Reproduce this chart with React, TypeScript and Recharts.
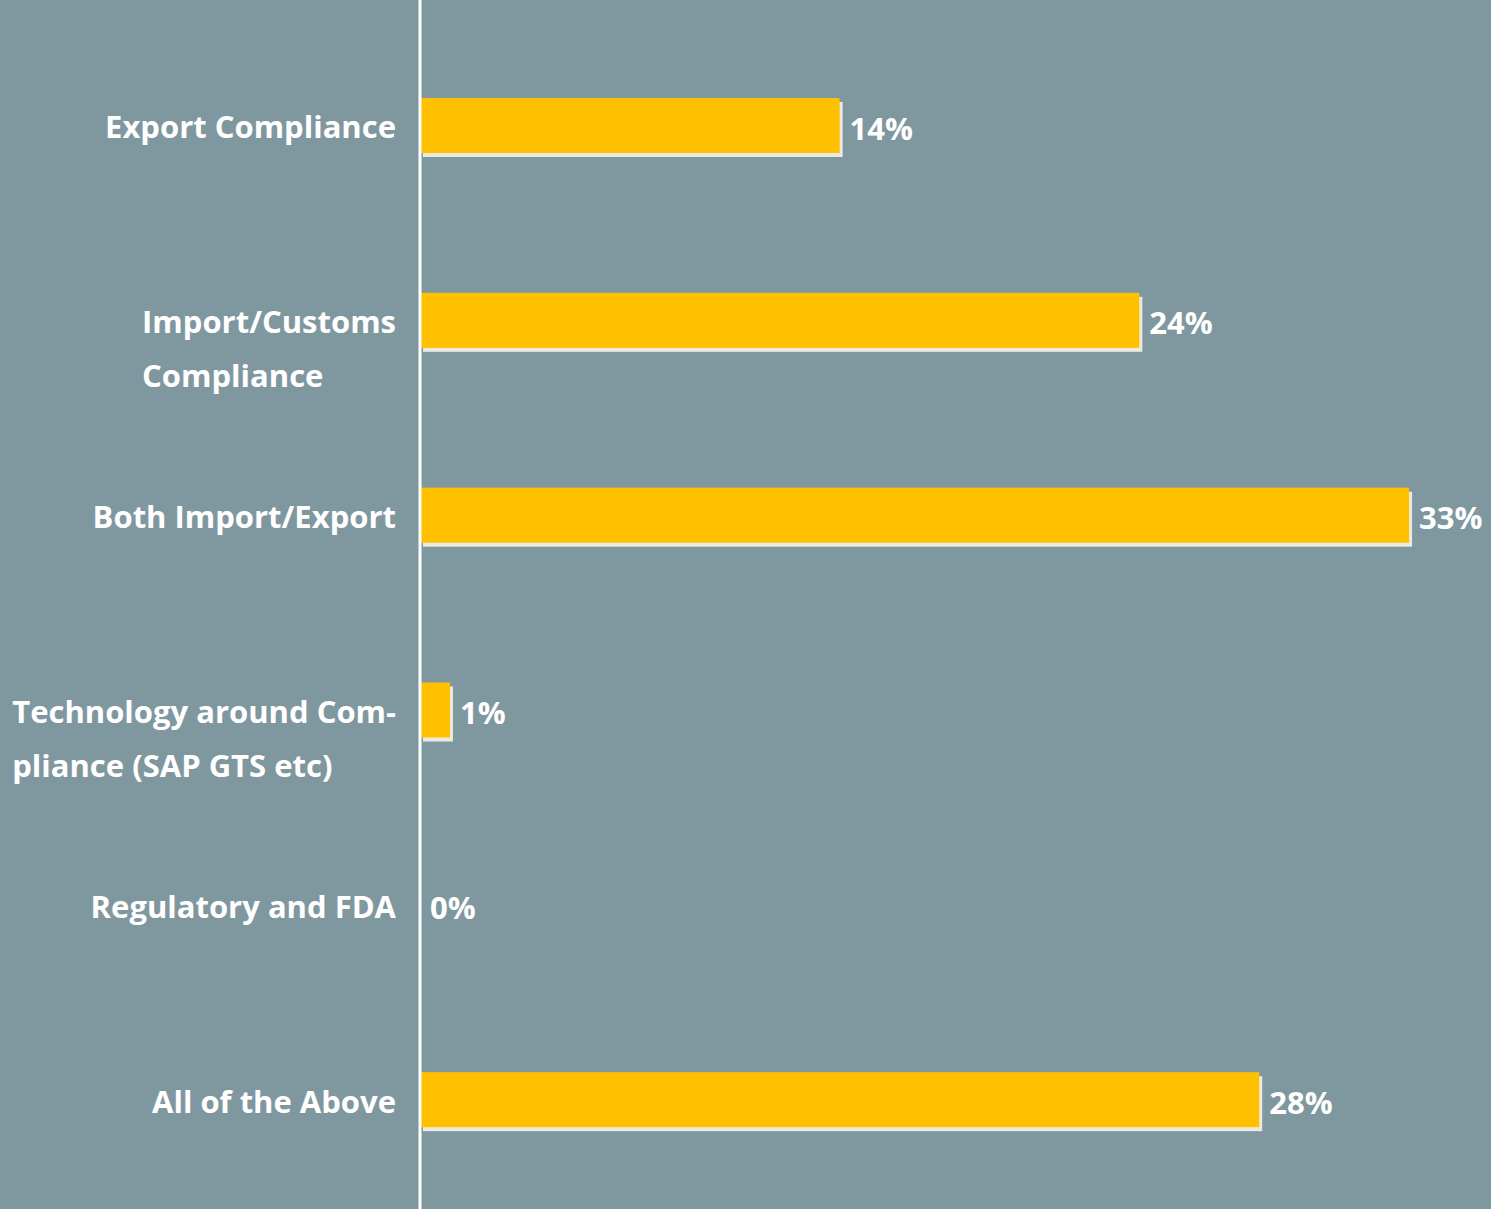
import React from 'react';
import { BarChart, Bar, XAxis, YAxis, LabelList } from 'recharts';

const categories = [
  'Export Compliance',
  'Import/Customs\nCompliance',
  'Both Import/Export',
  'Technology around Com-\npliance (SAP GTS etc)',
  'Regulatory and FDA',
  'All of the Above',
];
const shares = [14, 24, 33, 1, 0, 28];

const BG = '#7f98a0';
const BAR = '#ffc000';
const SHADOW = '#ece9df';
const FONT = '"Open Sans", sans-serif';

const chartData = categories.map((name, i) => ({ name, value: shares[i] }));

// category label: first line sits on the bar, extra lines flow below, block right-aligned
const CategoryTick = (props: any) => {
  const { x, y, payload } = props;
  const lines: string[] = String(payload.value).split('\n');
  const boxW = 420;
  const lineH = 54;
  return (
    <foreignObject x={x - 16 - boxW} y={y - lineH / 2 + 1} width={boxW} height={lineH * lines.length}>
      <div style={{ display: 'flex', justifyContent: 'flex-end' }}>
        <div
          style={{
            textAlign: 'left',
            color: '#fff',
            fontFamily: FONT,
            fontWeight: 700,
            fontSize: 31,
            lineHeight: `${lineH}px`,
            whiteSpace: 'nowrap',
          }}
        >
          {lines.map((l, i) => (
            <div key={i}>{l}</div>
          ))}
        </div>
      </div>
    </foreignObject>
  );
};

// bar with a pale drop shadow offset down/right
const ShadowBar = (props: any) => {
  const { x, y, width, height } = props;
  if (!width || width <= 0) return null;
  return (
    <g>
      <rect x={x + 3} y={y + 4} width={width} height={height} fill={SHADOW} />
      <rect x={x} y={y} width={width} height={height} fill={BAR} />
    </g>
  );
};

export default function App() {
  return (
    <div style={{ width: 1491, height: 1209, background: BG }}>
      <style>{'body{margin:0}'}</style>
      <BarChart
        width={1491}
        height={1209}
        data={chartData}
        layout="vertical"
        margin={{ top: 0, right: 13, bottom: 0, left: 0 }}
        barCategoryGap={0}
      >
        <XAxis type="number" domain={[0, 35.3]} hide />
        <YAxis
          type="category"
          dataKey="name"
          width={420}
          padding={{ top: 28, bottom: 12 }}
          axisLine={{ stroke: '#ffffff', strokeWidth: 3 }}
          tickLine={false}
          tick={<CategoryTick />}
          interval={0}
        />
        <Bar dataKey="value" barSize={55} shape={<ShadowBar />} isAnimationActive={false}>
          <LabelList
            dataKey="value"
            position="right"
            offset={10}
            formatter={(v: any) => `${v}%`}
            fill="#ffffff"
            dy={3}
            style={{ fontFamily: FONT, fontWeight: 700, fontSize: 31 }}
          />
        </Bar>
      </BarChart>
    </div>
  );
}
